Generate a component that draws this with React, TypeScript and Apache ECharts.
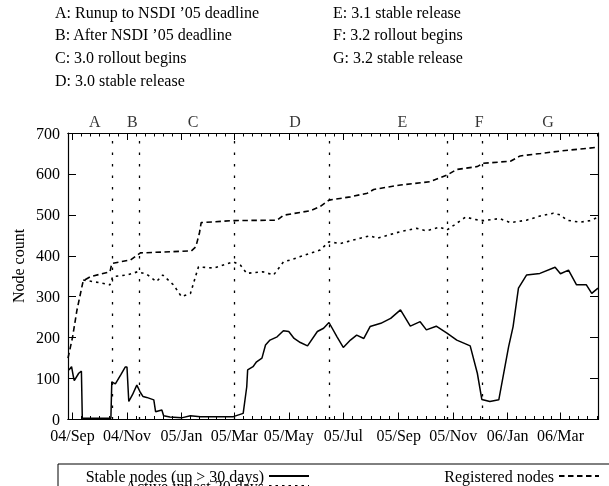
import React, { useEffect, useRef } from 'react';
import * as echarts from 'echarts';

const FONT = '"Liberation Serif", "Times New Roman", Times, serif';

// x axis range and tick labels
const xMinDate = '2004-08-27';
const xMaxDate = '2006-04-12';
const majorTickDates = ['2004-09-01', '2004-11-01', '2005-01-01', '2005-03-01', '2005-05-01', '2005-07-01', '2005-09-01', '2005-11-01', '2006-01-01', '2006-03-01'];
const nextMajorAfterLast = '2006-05-01';
const monthNames = ['Jan', 'Feb', 'Mar', 'Apr', 'May', 'Jun', 'Jul', 'Aug', 'Sep', 'Oct', 'Nov', 'Dec'];

// event markers
const eventLineDates = ['2004-10-15', '2004-11-15', '2005-03-01', '2005-06-15', '2005-10-25', '2005-12-04'];
const eventLetters = ['A', 'B', 'C', 'D', 'E', 'F', 'G'];
const eventLetterDates = ['2004-09-26', '2004-11-07', '2005-01-14', '2005-05-08', '2005-09-05', '2005-11-30', '2006-02-15'];
const eventDescriptionsLeft = ['A: Runup to NSDI \u201905 deadline', 'B: After NSDI \u201905 deadline', 'C: 3.0 rollout begins', 'D: 3.0 stable release'];
const eventDescriptionsRight = ['E: 3.1 stable release', 'F: 3.2 rollout begins', 'G: 3.2 stable release'];

// series
const seriesNames = ['Stable nodes (up > 30 days)', 'Active in last 30 days', 'Registered nodes'];

const stableNodes: [string, number][] = [
  ['2004-08-28', 121], ['2004-08-31', 129], ['2004-09-02', 105], ['2004-09-03', 95], ['2004-09-08', 113], ['2004-09-11', 118],
  ['2004-09-12', 3], ['2004-10-14', 3], ['2004-10-15', 92], ['2004-10-19', 87], ['2004-10-25', 109], ['2004-10-30', 128],
  ['2004-11-01', 128], ['2004-11-03', 44], ['2004-11-07', 60], ['2004-11-12', 84], ['2004-11-16', 66], ['2004-11-19', 56],
  ['2004-11-23', 54], ['2004-12-01', 48], ['2004-12-03', 19], ['2004-12-10', 23], ['2004-12-12', 9], ['2004-12-19', 6],
  ['2005-01-01', 4], ['2005-01-11', 9], ['2005-01-22', 7], ['2005-02-28', 7], ['2005-03-11', 15], ['2005-03-15', 80],
  ['2005-03-16', 121], ['2005-03-22', 129], ['2005-03-26', 141], ['2005-04-01', 150], ['2005-04-05', 182], ['2005-04-10', 194],
  ['2005-04-18', 202], ['2005-04-25', 217], ['2005-05-01', 215], ['2005-05-07', 198], ['2005-05-14', 188], ['2005-05-22', 180],
  ['2005-06-02', 215], ['2005-06-09', 223], ['2005-06-15', 237], ['2005-06-24', 202], ['2005-07-01', 176], ['2005-07-09', 194],
  ['2005-07-16', 206], ['2005-07-24', 198], ['2005-07-31', 227], ['2005-08-12', 235], ['2005-08-23', 247], ['2005-09-03', 268],
  ['2005-09-14', 228], ['2005-09-25', 239], ['2005-10-02', 219], ['2005-10-13', 228], ['2005-10-25', 211], ['2005-11-05', 194],
  ['2005-11-20', 180], ['2005-11-28', 113], ['2005-12-03', 49], ['2005-12-12', 44], ['2005-12-22', 48], ['2006-01-02', 178],
  ['2006-01-07', 227], ['2006-01-13', 321], ['2006-01-22', 353], ['2006-02-06', 357], ['2006-02-23', 372], ['2006-03-01', 356],
  ['2006-03-10', 365], ['2006-03-19', 329], ['2006-03-30', 329], ['2006-04-05', 308], ['2006-04-12', 321],
];

const activeNodes: [string, number][] = [
  ['2004-09-13', 341], ['2004-10-02', 334], ['2004-10-13', 329], ['2004-10-16', 349], ['2004-11-01', 353], ['2004-11-13', 361],
  ['2004-11-23', 355], ['2004-12-04', 337], ['2004-12-11', 353], ['2004-12-23', 329], ['2005-01-01', 300], ['2005-01-11', 308],
  ['2005-01-20', 373], ['2005-02-06', 370], ['2005-02-28', 385], ['2005-03-08', 377], ['2005-03-15', 357], ['2005-04-02', 361],
  ['2005-04-14', 353], ['2005-04-25', 385], ['2005-05-03', 390], ['2005-05-14', 398], ['2005-06-05', 414], ['2005-06-15', 434],
  ['2005-06-28', 430], ['2005-07-20', 443], ['2005-07-31', 449], ['2005-08-08', 443], ['2005-09-03', 459], ['2005-09-21', 467],
  ['2005-10-02', 461], ['2005-10-17', 470], ['2005-10-25', 463], ['2005-11-02', 475], ['2005-11-15', 495], ['2005-11-24', 489],
  ['2005-12-05', 486], ['2005-12-23', 491], ['2006-01-04', 481], ['2006-01-22', 487], ['2006-02-06', 497], ['2006-02-21', 504],
  ['2006-03-01', 500], ['2006-03-08', 487], ['2006-03-23', 482], ['2006-04-03', 486], ['2006-04-11', 493],
];

const registeredNodes: [string, number][] = [
  ['2004-08-27', 150], ['2004-09-01', 200], ['2004-09-06', 267], ['2004-09-13', 339], ['2004-09-21', 349], ['2004-10-02', 355],
  ['2004-10-13', 361], ['2004-10-15', 381], ['2004-11-05', 390], ['2004-11-16', 407], ['2005-01-12', 412], ['2005-01-17', 422],
  ['2005-01-21', 455], ['2005-01-23', 481], ['2005-02-28', 486], ['2005-04-18', 487], ['2005-04-25', 499], ['2005-05-25', 510],
  ['2005-06-05', 520], ['2005-06-15', 536], ['2005-07-09', 544], ['2005-07-28', 553], ['2005-08-04', 562], ['2005-09-03', 573],
  ['2005-10-06', 581], ['2005-10-25', 597], ['2005-11-05', 611], ['2005-11-28', 618], ['2005-12-04', 626], ['2006-01-04', 631],
  ['2006-01-15', 644], ['2006-02-07', 650], ['2006-03-01', 656], ['2006-04-11', 665],
];

const yMin = 0;
const yMax = 700;
const yInterval = 100;

const t = (s: string) => {
  const [y, m, d] = s.split('-').map(Number);
  return new Date(y, m - 1, d).getTime();
};

function buildMinorTicks(): number[] {
  const out: number[] = [];
  const maxT = t(xMaxDate);
  const minT = t(xMinDate);
  const majors = majorTickDates.map(t);
  const bounds = [...majors, t(nextMajorAfterLast)];
  for (let i = 0; i < majors.length; i++) {
    const a = bounds[i];
    const b = bounds[i + 1];
    for (let k = 1; k < 6; k++) {
      const v = a + ((b - a) * k) / 6;
      if (v <= maxT && v >= minT) out.push(v);
    }
  }
  return out;
}

export default function App() {
  const ref = useRef<HTMLDivElement>(null);
  useEffect(() => {
    if (!ref.current) return;
    const chart = echarts.init(ref.current, undefined, { renderer: 'svg' });
    const majors = majorTickDates.map(t);
    const minors = buildMinorTicks();
    const xBase = {
      type: 'value' as const,
      min: t(xMinDate),
      max: t(xMaxDate),
      splitLine: { show: false },
      axisLine: { show: true, onZero: false, lineStyle: { color: '#000', width: 1.2 } },
    };
    const fmt = (v: number) => {
      const d = new Date(v);
      return String(d.getFullYear() % 100).padStart(2, '0') + '/' + monthNames[d.getMonth()];
    };
    const txt = { fontFamily: FONT, fontSize: 16, color: '#000' };
    const legendBase = {
      orient: 'vertical', align: 'right', padding: 0, itemWidth: 40, itemHeight: 14, selectedMode: false,
      itemStyle: { opacity: 0, borderWidth: 0 },
      textStyle: { ...txt, lineHeight: 14 },
    };
    const option: any = {
      animation: false,
      textStyle: { fontFamily: FONT },
      grid: { left: 68, right: 11, top: 133, bottom: 66.5, containLabel: false, outerBoundsMode: 'none' },
      xAxis: [
        {
          ...xBase, position: 'bottom',
          axisTick: { show: true, inside: true, length: 7, customValues: majors, lineStyle: { color: '#000' } },
          axisLabel: { show: true, customValues: majors, formatter: fmt, margin: 8, ...txt },
        },
        {
          ...xBase, position: 'bottom',
          axisTick: { show: true, inside: true, length: 3.5, customValues: minors, lineStyle: { color: '#000' } },
          axisLabel: { show: false },
        },
        {
          ...xBase, position: 'top',
          axisTick: { show: true, inside: true, length: 7, customValues: majors, lineStyle: { color: '#000' } },
          axisLabel: { show: false },
        },
        {
          ...xBase, position: 'top',
          axisTick: { show: true, inside: true, length: 3.5, customValues: minors, lineStyle: { color: '#000' } },
          axisLabel: { show: false },
        },
      ],
      yAxis: [
        {
          type: 'value', position: 'left', min: yMin, max: yMax, interval: yInterval,
          splitLine: { show: false },
          axisLine: { show: true, lineStyle: { color: '#000', width: 1.2 } },
          axisTick: { show: true, inside: true, length: 8, lineStyle: { color: '#000' } },
          axisLabel: { show: true, margin: 8, ...txt },
        },
        {
          type: 'value', position: 'right', min: yMin, max: yMax, interval: yInterval,
          splitLine: { show: false },
          axisLine: { show: true, lineStyle: { color: '#000', width: 1.2 } },
          axisTick: { show: true, inside: true, length: 8, lineStyle: { color: '#000' } },
          axisLabel: { show: false },
        },
      ],
      legend: [
        { ...legendBase, data: [seriesNames[0]], right: 299, top: 468 },
        { ...legendBase, data: [seriesNames[1]], right: 299, top: 478 },
        { ...legendBase, data: [seriesNames[2]], right: 9, top: 468 },
      ],
      graphic: [
        ...eventDescriptionsLeft.map((s, i) => ({
          type: 'text', x: 55, y: 12 + i * 22.8, silent: true,
          style: { text: s, font: `16px ${FONT}`, fill: '#000', textVerticalAlign: 'middle' },
        })),
        ...eventDescriptionsRight.map((s, i) => ({
          type: 'text', x: 333, y: 12 + i * 22.8, silent: true,
          style: { text: s, font: `16px ${FONT}`, fill: '#000', textVerticalAlign: 'middle' },
        })),
        {
          type: 'text', x: 18, y: 266, rotation: Math.PI / 2, silent: true,
          style: { text: 'Node count', font: `16px ${FONT}`, fill: '#000', textAlign: 'center', textVerticalAlign: 'middle' },
        },
        {
          type: 'rect', shape: { x: 58, y: 464, width: 600, height: 60 }, silent: true,
          style: { fill: 'none', stroke: '#000', lineWidth: 1 },
        },
      ],
      series: [
        {
          name: seriesNames[0], type: 'line', xAxisIndex: 0, yAxisIndex: 0, symbol: 'none',
          data: stableNodes.map(([d, v]) => [t(d), v]),
          itemStyle: { color: '#000' },
          lineStyle: { color: '#000', width: 1.5, type: 'solid' },
          markLine: {
            silent: true, symbol: ['none', 'none'], label: { show: false },
            lineStyle: { color: '#000', width: 1.3, type: [2.5, 9] },
            data: eventLineDates.map((d) => ({ xAxis: t(d) })),
          },
        },
        {
          name: seriesNames[1], type: 'line', xAxisIndex: 0, yAxisIndex: 0, symbol: 'none',
          data: activeNodes.map(([d, v]) => [t(d), v]),
          itemStyle: { color: '#000' },
          lineStyle: { color: '#000', width: 1.6, type: [2.5, 4] },
        },
        {
          name: seriesNames[2], type: 'line', xAxisIndex: 0, yAxisIndex: 0, symbol: 'none',
          data: registeredNodes.map(([d, v]) => [t(d), v]),
          itemStyle: { color: '#000' },
          lineStyle: { color: '#000', width: 1.6, type: [5.5, 3.5] },
        },
        {
          type: 'scatter', xAxisIndex: 0, yAxisIndex: 0, symbolSize: 0, silent: true, clip: false,
          data: eventLetters.map((l, i) => ({ name: l, value: [t(eventLetterDates[i]), yMax] })),
          itemStyle: { color: '#000' },
          label: { show: true, position: 'top', distance: 4, formatter: '{b}', ...txt },
        },
      ],
    };
    chart.setOption(option);
    return () => chart.dispose();
  }, []);
  return <div ref={ref} style={{ position: 'fixed', left: 0, top: 0, width: 609, height: 486 }} />;
}
